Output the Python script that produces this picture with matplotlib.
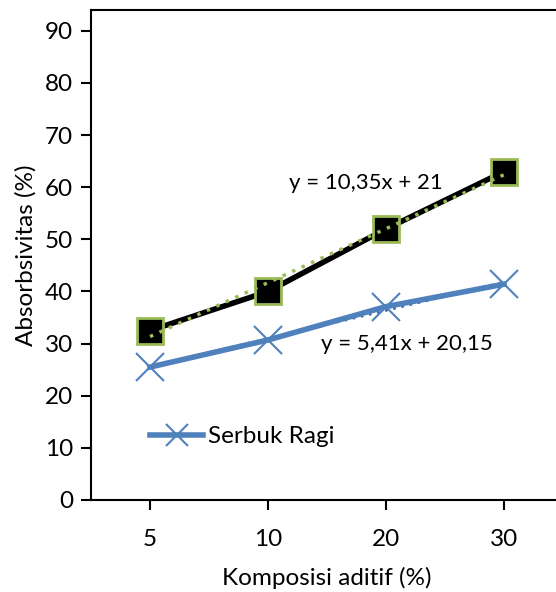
import matplotlib.pyplot as plt
import numpy as np

plt.rcParams['font.family'] = ['Lato', 'DejaVu Sans']

# data
komposisi = ['5', '10', '20', '30']
seri_hitam = [32.5, 40.0, 52.0, 63.0]
serbuk_ragi = [25.5, 30.7, 37.1, 41.4]

hijau = '#9BBB59'
biru = '#4F81BD'

fig = plt.figure(figsize=(5.56, 5.92), dpi=100)
ax = fig.add_axes([91 / 556, 92 / 592, 472 / 556, 490 / 592])

xpos = np.arange(len(komposisi))

ax.plot(xpos, seri_hitam, color='black', linewidth=4, marker='s', markersize=19,
        markerfacecolor='black', markeredgecolor=hijau, markeredgewidth=2, zorder=3,
        label='_nolegend_')
ax.plot(xpos, serbuk_ragi, color=biru, linewidth=4, marker='x', markersize=20,
        markeredgewidth=1.5, zorder=3, label='Serbuk Ragi')

# linear trendlines (x = 1..4 as in Excel)
xt = xpos + 1
k1 = np.polyfit(xt, seri_hitam, 1)
k2 = np.polyfit(xt, serbuk_ragi, 1)
ax.plot(xpos, np.polyval(k1, xt), color=hijau, linestyle=(0, (1, 2)), linewidth=2.5, zorder=4)
ax.plot(xpos, np.polyval(k2, xt), color='#3A6BA5', linestyle=(0, (1, 2)), linewidth=2, zorder=2)

ax.text(1.83, 60.8, 'y = 10,35x + 21', fontsize=16, ha='center', va='center')
ax.text(2.18, 29.9, 'y = 5,41x + 20,15', fontsize=16, ha='center', va='center')

ax.set_xlim(-0.5, 3.5)
ax.set_ylim(0, 94)
ax.set_yticks(range(0, 91, 10))
ax.set_xticks(xpos)
ax.set_xticklabels(komposisi)
ax.tick_params(labelsize=17.5, length=7, width=1.5, direction='out', pad=6)
ax.tick_params(axis='x', pad=14)
for s in ax.spines.values():
    s.set_linewidth(1.5)

ax.set_xlabel('Komposisi aditif (%)', fontsize=17.5, labelpad=12)
ax.set_ylabel('Absorbsivitas (%)', fontsize=17.5, labelpad=6)

ax.legend(loc='center left', bbox_to_anchor=(0.125, 0.129), frameon=False,
          fontsize=17.5, borderpad=0, borderaxespad=0, handlelength=2.2,
          handletextpad=0.2, markerscale=0.8)

fig.savefig('out.png', dpi=100)
